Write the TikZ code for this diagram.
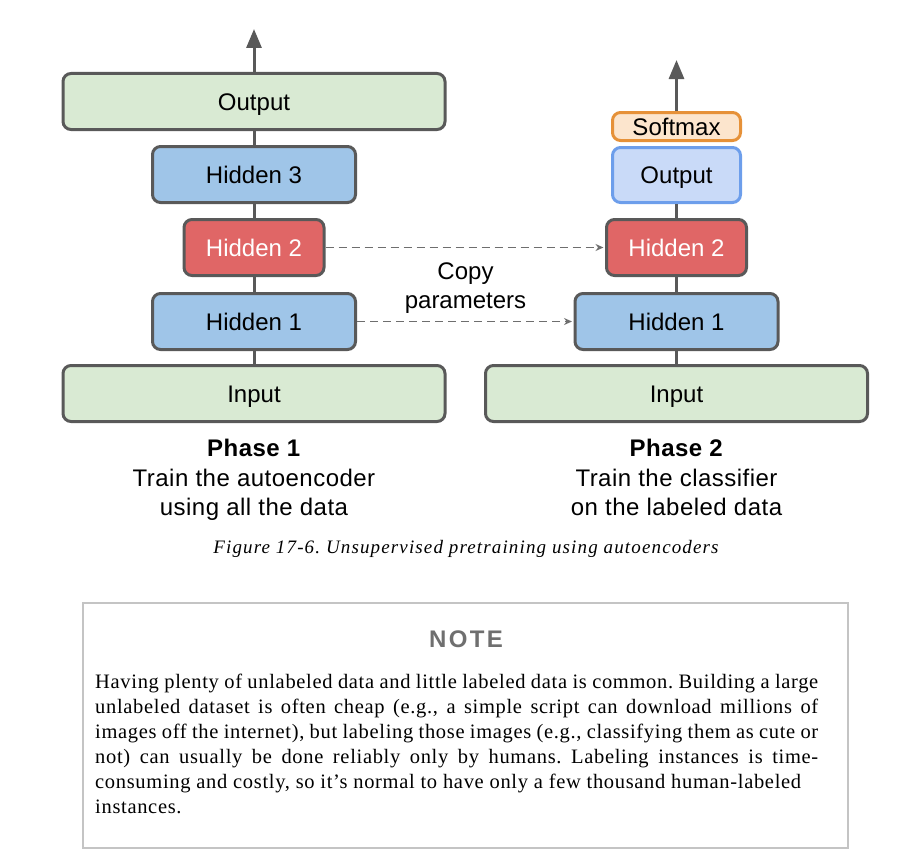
\documentclass[tikz,border=0pt]{standalone}
\usepackage{fontspec}
\setmainfont{Liberation Serif}
\setsansfont{Liberation Sans}
\usetikzlibrary{arrows.meta}

\definecolor{linegray}{HTML}{595959}
\definecolor{dashgray}{HTML}{6E6E6E}
\definecolor{layergreen}{HTML}{D9EAD3}
\definecolor{layerblue}{HTML}{9FC5E8}
\definecolor{layerred}{HTML}{E06666}
\definecolor{outblue}{HTML}{C9DAF8}
\definecolor{outborder}{HTML}{6D9EEB}
\definecolor{softfill}{HTML}{FCE5CD}
\definecolor{softborder}{HTML}{E69138}
\definecolor{notegray}{HTML}{C4C4C4}
\definecolor{notetitle}{HTML}{6F6F6F}

\tikzset{
  layer/.style={rectangle, rounded corners=8pt, draw=linegray, line width=3pt, inner sep=0pt,
    text height=17pt, text depth=0pt, font=\sffamily\fontsize{24}{29}\selectfont},
  wide/.style={layer, fill=layergreen, minimum width=382pt, minimum height=56pt},
  mid/.style={layer, fill=layerblue, minimum width=203pt, minimum height=56pt},
  narrow/.style={layer, fill=layerred, text=white, minimum width=140pt, minimum height=56pt},
  conn/.style={draw=linegray, line width=3pt},
  copyarrow/.style={draw=dashgray, line width=1.5pt, dash pattern=on 8pt off 5pt,
    -{Stealth[length=8pt, width=7pt]}, shorten >=1.5pt},
  phase/.style={anchor=north, inner sep=0pt, align=center,
    font=\sffamily\fontsize{24}{29.5}\selectfont\addfontfeatures{LetterSpace=2}}
}

\begin{document}
\frenchspacing
\begin{tikzpicture}[x=1pt, y=-1pt]
\useasboundingbox (0,0) rectangle (918,867);

% phase 1: autoencoder
\node[wide] (inA) at (254,393.5) {Input};
\node[mid] (hidA1) at (254,321.5) {Hidden 1};
\node[narrow] (hidA2) at (254,247.5) {Hidden 2};
\node[mid] (hidA3) at (254,174.5) {Hidden 3};
\node[wide] (outA) at (254,101.5) {Output};
\coordinate (topA) at (254,29);
\draw[conn] (inA) -- (hidA1) -- (hidA2) -- (hidA3) -- (outA);
\draw[conn, -{Triangle[length=19pt, width=15pt]}] (outA) -- (topA);

% phase 2: classifier
\node[wide] (inB) at (676.5,393.5) {Input};
\node[mid] (hidB1) at (676.5,321.5) {Hidden 1};
\node[narrow] (hidB2) at (676.5,247.5) {Hidden 2};
\node[layer, fill=outblue, draw=outborder, minimum width=128pt, minimum height=55pt] (outB) at (676.5,175) {Output};
\node[layer, fill=softfill, draw=softborder, minimum width=128pt, minimum height=28pt] (softB) at (676.5,126.5) {Softmax};
\coordinate (topB) at (676.5,60);
\draw[conn] (inB) -- (hidB1) -- (hidB2) -- (outB);
\draw[conn, -{Triangle[length=19pt, width=15pt]}] (softB) -- (topB);

% copied weights
\draw[copyarrow] (hidA2) -- (hidB2);
\draw[copyarrow] (hidA1) -- (hidB1);
\node[align=center, font=\sffamily\fontsize{24}{29}\selectfont] (copy) at (465.5,288.5) {Copy\\parameters};

\node[phase] (phA) at (254,439) {\textbf{Phase 1}\\Train the autoencoder\\using all the data};
\node[phase] (phB) at (676.5,439) {\textbf{Phase 2}\\Train the classifier\\on the labeled data};

% caption and note
\node[anchor=base, font=\itshape\fontsize{19}{23}\selectfont\addfontfeatures{LetterSpace=6}] (cap) at (466,553)
  {Figure 17-6. Unsupervised pretraining using autoencoders};

\node[draw=notegray, line width=1.5pt, minimum width=765pt, minimum height=245pt] (note) at (465.5,725.5) {};
\node[font=\sffamily\bfseries\fontsize{24}{29}\selectfont\addfontfeatures{LetterSpace=10}, text=notetitle] (noteT) at (466,639) {NOTE};
\node[anchor=north west, inner sep=0pt, text width=723pt, align=justify,
  font=\fontsize{20.5}{25}\selectfont\addfontfeatures{LetterSpace=3.3}] (noteB) at (95,674)
  {Having plenty of unlabeled data and little labeled data is common. Building a large\linebreak
   unlabeled dataset is often cheap (e.g., a simple script can download millions of\linebreak
   images off the internet), but labeling those images (e.g., classifying them as cute or\linebreak
   not) can usually be done reliably only by humans. Labeling instances is time-\linebreak
   consuming and costly, so it's normal to have only a few thousand human-labeled\\
   instances.};
\end{tikzpicture}
\end{document}
